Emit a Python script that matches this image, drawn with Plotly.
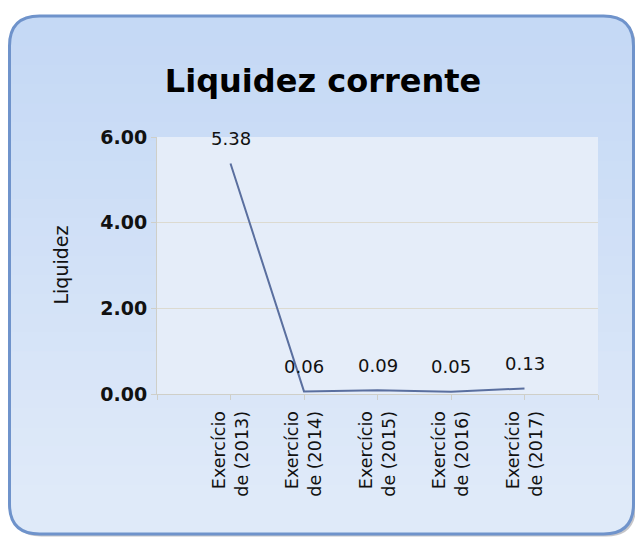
import plotly.graph_objects as go

categories = ["Exercício<br>de (2013)", "Exercício<br>de (2014)", "Exercício<br>de (2015)",
              "Exercício<br>de (2016)", "Exercício<br>de (2017)"]
values = [5.38, 0.06, 0.09, 0.05, 0.13]
value_labels = ["5.38", "0.06", "0.09", "0.05", "0.13"]
y_ticks = [0, 2, 4, 6]
y_ticktext = ["0.00", "2.00", "4.00", "6.00"]

# page has an 8px body margin, so the figure is drawn 8px in from the window edge
W, H = 635, 530
L, R, T, B = 149, 45, 129, 144
PW, PH = W - L - R, H - T - B


def px(x):
    return (x - L) / PW


def py(y):
    return 1 - (y - T) / PH


def card_path(x0, y0, x1, y1, r, round_top=True):
    pts = []
    if round_top:
        pts.append(f"M {px(x0)},{py(y0 + r)}")
        pts.append(f"Q {px(x0)},{py(y0)} {px(x0 + r)},{py(y0)}")
        pts.append(f"L {px(x1 - r)},{py(y0)}")
        pts.append(f"Q {px(x1)},{py(y0)} {px(x1)},{py(y0 + r)}")
    else:
        pts.append(f"M {px(x0)},{py(y0)}")
        pts.append(f"L {px(x1)},{py(y0)}")
    pts.append(f"L {px(x1)},{py(y1 - r)}")
    pts.append(f"Q {px(x1)},{py(y1)} {px(x1 - r)},{py(y1)}")
    pts.append(f"L {px(x0 + r)},{py(y1)}")
    pts.append(f"Q {px(x0)},{py(y1)} {px(x0)},{py(y1 - r)}")
    pts.append("Z")
    return " ".join(pts)


cx0, cy0, cx1, cy1, rad = 1.5, 8, 625.5, 526, 30
top_c = (197, 217, 245)
bot_c = (224, 234, 249)

shapes = []
shapes.append(dict(type="path", xref="paper", yref="paper", layer="below",
                   path=card_path(cx0 + 2, cy0 + 2, cx1 + 2.5, cy1 + 2.5, rad),
                   fillcolor="rgba(110,110,120,0.4)", line=dict(width=0)))
shapes.append(dict(type="path", xref="paper", yref="paper", layer="below",
                   path=card_path(cx0, cy0, cx1, cy1, rad),
                   fillcolor="rgb(%d,%d,%d)" % top_c, line=dict(width=0)))
n = 24
for i in range(n):
    y_start = cy0 + rad + i * (cy1 - rad - (cy0 + rad)) / n
    t = (i + 0.5) / n
    c = tuple(int(round(top_c[k] + (bot_c[k] - top_c[k]) * t)) for k in range(3))
    shapes.append(dict(type="path", xref="paper", yref="paper", layer="below",
                       path=card_path(cx0, y_start, cx1, cy1, rad, round_top=False),
                       fillcolor="rgb(%d,%d,%d)" % c, line=dict(width=0)))
shapes.append(dict(type="path", xref="paper", yref="paper", layer="below",
                   path=card_path(cx0, cy0, cx1, cy1, rad),
                   fillcolor="rgba(0,0,0,0)", line=dict(color="#6f93cb", width=3)))
shapes.append(dict(type="rect", xref="paper", yref="paper", layer="below",
                   x0=0, x1=1, y0=0, y1=1, fillcolor="#e5edf9", line=dict(width=0)))

x_idx = list(range(len(categories)))

fig = go.Figure()
fig.add_trace(go.Scatter(x=x_idx, y=values, mode="lines",
                         line=dict(color="#5a6f9f", width=2), hoverinfo="skip"))

annotations = []
for i, (v, lab) in enumerate(zip(values, value_labels)):
    annotations.append(dict(x=i, y=v, xref="x", yref="y", text=lab, showarrow=False,
                            yshift=25, font=dict(family="DejaVu Sans", size=18, color="#111")))
annotations.append(dict(x=px(52), y=0.5, xref="paper", yref="paper", text="Liquidez",
                        textangle=-90, showarrow=False, xanchor="center", yanchor="middle",
                        font=dict(family="DejaVu Sans", size=19, color="#111")))

fig.update_layout(
    width=W, height=H,
    margin=dict(l=L, r=R, t=T, b=B),
    paper_bgcolor="white",
    plot_bgcolor="rgba(0,0,0,0)",
    shapes=shapes,
    annotations=annotations,
    showlegend=False,
    title=dict(text="<b>Liquidez corrente</b>", x=315 / W, xref="container", xanchor="center",
               y=1 - 73 / H, yref="container", yanchor="middle",
               font=dict(family="DejaVu Sans", size=32, color="black")),
    xaxis=dict(range=[-1, 5], tickvals=[-1] + x_idx + [5],
               ticktext=[""] + categories + [""], tickangle=-90,
               showgrid=False, showline=True, linecolor="#cfcfc8", linewidth=1,
               ticks="outside", ticklen=5, tickcolor="#cfcfc8", ticklabelstandoff=4,
               tickfont=dict(family="DejaVu Sans", size=17.5, color="#111"),
               zeroline=False, fixedrange=True),
    yaxis=dict(range=[0, 6], tickvals=y_ticks, ticktext=y_ticktext,
               showgrid=True, gridcolor="#dcdad0", gridwidth=1,
               showline=True, linecolor="#cfcfc8", linewidth=1,
               ticks="outside", ticklen=5, tickcolor="#cfcfc8",
               tickfont=dict(family="DejaVu Sans", size=19, color="#111", weight="bold"),
               zeroline=False, fixedrange=True),
)

fig.write_html("out.html")
